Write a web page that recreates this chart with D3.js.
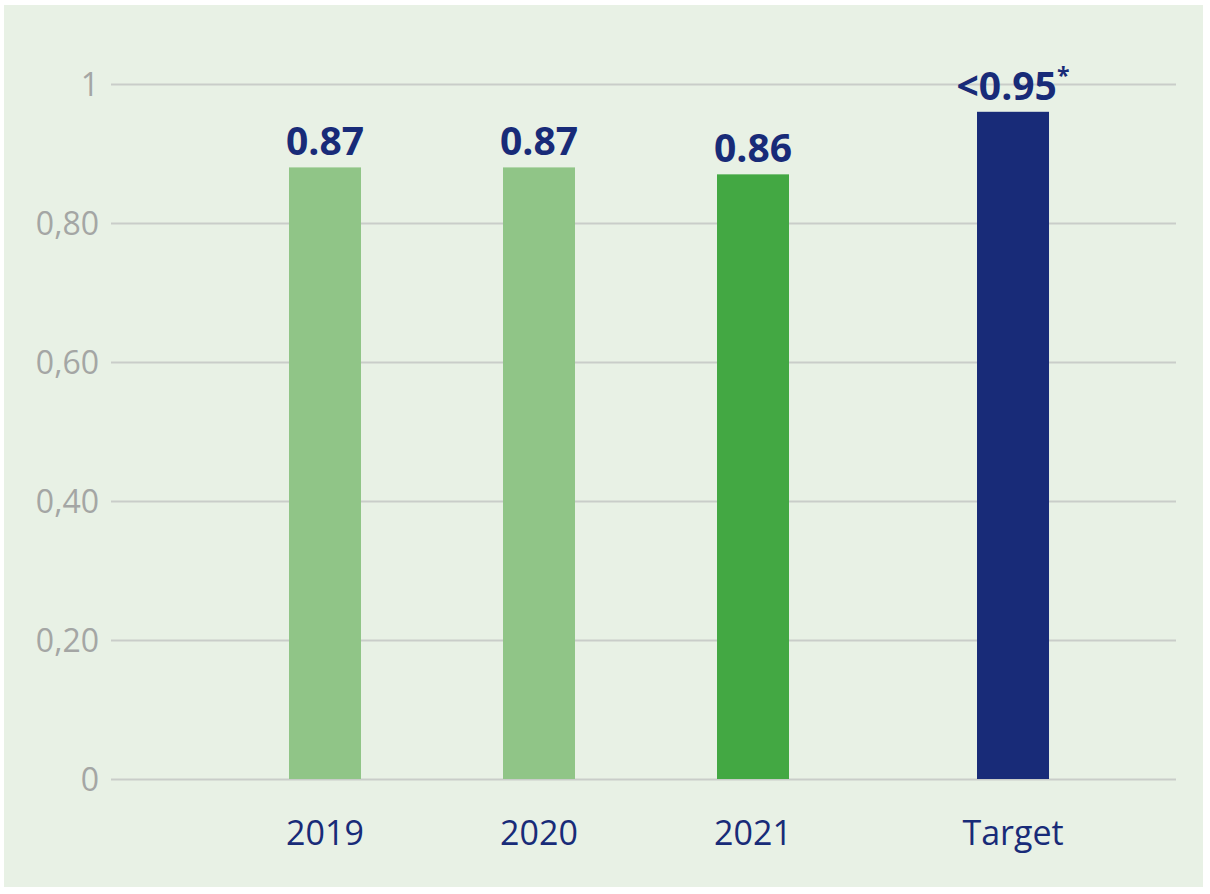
<!DOCTYPE html>
<html>
<head>
<meta charset="utf-8">
<script src="https://cdn.jsdelivr.net/npm/d3@7"></script>
<style>
  body { margin: 0; background: #fff; }
  svg { display: block; font-family: "Open Sans", "Noto Sans", sans-serif; }
</style>
</head>
<body>
<div id="chart"></div>
<script>
// chart values
const categories = ["2019", "2020", "2021", "Target"];
const barValues = [0.88, 0.88, 0.87, 0.96];
const barLabels = ["0.87", "0.87", "0.86", "<0.95"];
const barColors = ["#90c587", "#90c587", "#43a843", "#182b78"];
const yTicks = [0, 0.2, 0.4, 0.6, 0.8, 1];
const yTickLabels = ["0", "0,20", "0,40", "0,60", "0,80", "1"];

const width = 1210, height = 894;
const margin = {top: 84, right: 34, bottom: 115, left: 111};
const innerW = width - margin.left - margin.right,
      innerH = height - margin.top - margin.bottom;
const font = '"Open Sans", "Noto Sans", sans-serif';

const svg = d3.select("#chart")
  .append("svg")
    .attr("width", width)
    .attr("height", height);

// light green panel
svg.append("rect")
  .attr("x", 4).attr("y", 5)
  .attr("width", 1199).attr("height", 882)
  .attr("fill", "#e8f1e5");

const g = svg.append("g")
  .attr("transform", `translate(${margin.left},${margin.top})`);

const y = d3.scaleLinear()
  .domain([0, 1])
  .range([innerH, 0]);

// years evenly spaced, target pushed a bit further right
const x = d3.scaleLinear()
  .domain([0, 3])
  .range([214, 856]);
const slot = (d, i) => i === 3 ? 3.215 : i;
const barW = 72;

// gridlines + y labels
const yAxis = g.append("g")
  .call(d3.axisLeft(y).tickValues(yTicks).tickSize(-innerW)
    .tickFormat((d, i) => yTickLabels[i]).tickPadding(12))
  .attr("font-family", font);
yAxis.select(".domain").remove();
yAxis.selectAll(".tick line")
  .attr("stroke", "#c9cdc9")
  .attr("stroke-width", 2);
yAxis.selectAll(".tick text")
  .attr("fill", "#a4a6a4")
  .attr("font-size", 32)
  .attr("dy", "0.36em");

// bars
g.selectAll(".bar")
  .data(barValues)
  .join("rect")
    .attr("class", "bar")
    .attr("x", (d, i) => x(slot(d, i)) - barW / 2)
    .attr("y", d => y(d))
    .attr("width", barW)
    .attr("height", d => innerH - y(d))
    .attr("fill", (d, i) => barColors[i]);

// value labels
const lbl = g.selectAll(".val")
  .data(barValues)
  .join("text")
    .attr("class", "val")
    .attr("x", (d, i) => x(slot(d, i)))
    .attr("y", d => y(d) - 12)
    .attr("text-anchor", "middle")
    .attr("fill", "#182b78")
    .attr("font-size", 39)
    .attr("font-weight", "bold")
    .text((d, i) => barLabels[i]);
lbl.filter((d, i) => i === 3)
  .append("tspan")
    .attr("font-size", 23)
    .attr("dy", "-0.7em")
    .text("*");

// category labels
g.selectAll(".cat")
  .data(categories)
  .join("text")
    .attr("class", "cat")
    .attr("x", (d, i) => x(slot(d, i)))
    .attr("y", innerH + 66)
    .attr("text-anchor", "middle")
    .attr("fill", "#182b78")
    .attr("font-size", 34)
    .text(d => d);
</script>
</body>
</html>
